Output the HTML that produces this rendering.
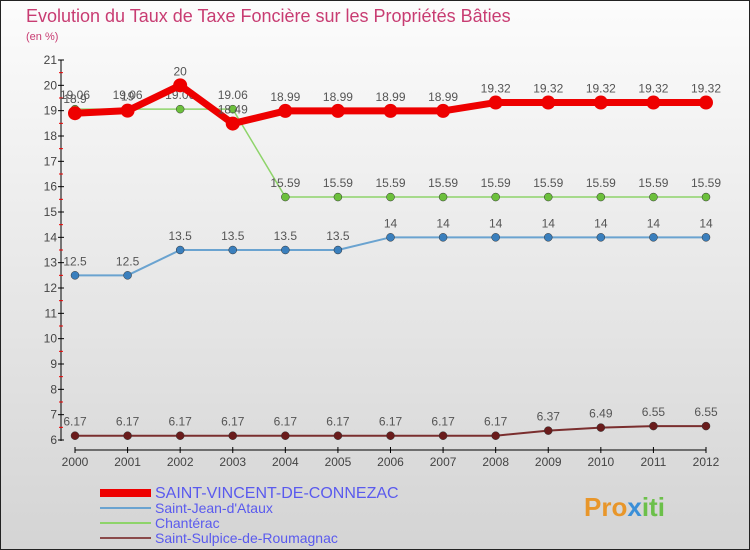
<!DOCTYPE html>
<html><head><meta charset="utf-8"><style>
body{margin:0;}
#wrap{width:750px;height:550px;position:relative;overflow:hidden;font-family:"Liberation Sans",sans-serif;}
svg text{font-family:"Liberation Sans",sans-serif;}
</style></head><body>
<div id="wrap">
<svg id="chart" width="750" height="550">
<defs><linearGradient id="bg" x1="0" y1="0" x2="0" y2="1"><stop offset="0" stop-color="#fcfcfc"/><stop offset="1" stop-color="#d4d4d4"/></linearGradient></defs>
<rect x="0.5" y="0.5" width="749" height="549" fill="url(#bg)" stroke="#222"/>
<text x="26" y="22" font-size="18" fill="#c83c72">Evolution du Taux de Taxe Foncière sur les Propriétés Bâties</text>
<text x="26" y="40" font-size="11" fill="#c83c72">(en %)</text>
<g id="axes"></g><g id="series"></g><g id="legend"></g>
<text x="584" y="516" font-size="26" font-weight="bold" fill="#e8962a">Pro<tspan fill="#3a8fd8">x</tspan><tspan fill="#6cc04a">iti</tspan></text>
</svg>
</div>
<script>
const years=[2000,2001,2002,2003,2004,2005,2006,2007,2008,2009,2010,2011,2012];
const yTicks=[6,7,8,9,10,11,12,13,14,15,16,17,18,19,20,21];
const seriesNames=["SAINT-VINCENT-DE-CONNEZAC","Saint-Jean-d'Ataux","Chantérac","Saint-Sulpice-de-Roumagnac"];
const stVincent=[18.9,19,20,18.49,18.99,18.99,18.99,18.99,19.32,19.32,19.32,19.32,19.32];
const stJean=[12.5,12.5,13.5,13.5,13.5,13.5,14,14,14,14,14,14,14];
const chanterac=[19.06,19.06,19.06,19.06,15.59,15.59,15.59,15.59,15.59,15.59,15.59,15.59,15.59];
const stSulpice=[6.17,6.17,6.17,6.17,6.17,6.17,6.17,6.17,6.17,6.37,6.49,6.55,6.55];
const NS="http://www.w3.org/2000/svg";
function x(i){return 75+i*(706-75)/(years.length-1);}
function y(v){return 440-(v-6)*(380/15);}
function mk(tag,attrs,parent,txt){const e=document.createElementNS(NS,tag);for(const k in attrs)e.setAttribute(k,attrs[k]);if(txt!==undefined)e.textContent=txt;parent.appendChild(e);return e;}
const axes=document.getElementById('axes');
let a=mk('line',{x1:61,y1:60,x2:61,y2:441,stroke:'#000'},axes);


a=mk('line',{x1:75,y1:450,x2:706,y2:450,stroke:'#000'},axes);


yTicks.forEach(t=>{
 mk('line',{x1:58,y1:y(t),x2:64,y2:y(t),stroke:'#000'},axes);
 if(t<21) mk('line',{x1:59,y1:y(t+0.5),x2:63,y2:y(t+0.5),stroke:'#e00'},axes);
 const l=mk('text',{x:57,y:y(t)+4,'font-size':12,'text-anchor':'end',fill:'#444'},axes,t);
 
 
});
years.forEach((yr,i)=>{
 mk('line',{x1:x(i),y1:447,x2:x(i),y2:453,stroke:'#000'},axes);
 const l=mk('text',{x:x(i),y:466,'font-size':12,'text-anchor':'middle',fill:'#444'},axes,yr);
 
 
});
const sg=document.getElementById('series');
const defs=[[stSulpice,'#7a2e2e','#6a1c1c',2,4,'series-saint-sulpice'],[stJean,'#6aa3d0','#3a7fbd',2,4,'series-saint-jean'],[chanterac,'#8ed46a','#6cc03c',1.5,4,'series-chanterac'],[stVincent,'#ee0000','#ee0000',7,7,'series-saint-vincent']];
defs.forEach(([d,lc,pc,w,r,name])=>{
 const g=mk('g',{},sg);
 
 
 mk('polyline',{points:d.map((v,i)=>x(i)+','+y(v)).join(' '),fill:'none',stroke:lc,'stroke-width':w,'stroke-linejoin':'round'},g);
 d.forEach((v,i)=>{
  const c=mk('circle',{cx:x(i),cy:y(v),r:r,fill:pc,stroke:name==='series-saint-vincent'?'none':'#333','stroke-width':0.5},g);
  
  
  const t=mk('text',{x:x(i),y:y(v)-10,'font-size':12,'text-anchor':'middle',fill:'#555'},g,v);
  
  
 });
});
const lg=document.getElementById('legend');
const lstyles=[['#ee0000',8,16],['#6aa3d0',2,14],['#8ed46a',2,14],['#8a4a4a',2,14]];
seriesNames.forEach((n,i)=>{
 const yy=493+i*15;
 const g=mk('g',{},lg);
 
 
 mk('line',{x1:100,y1:yy,x2:151,y2:yy,stroke:lstyles[i][0],'stroke-width':lstyles[i][1]},g);
 mk('text',{x:155,y:yy+5,'font-size':lstyles[i][2],fill:'#5a5aee'},g,n);
});
</script>
</body></html>
